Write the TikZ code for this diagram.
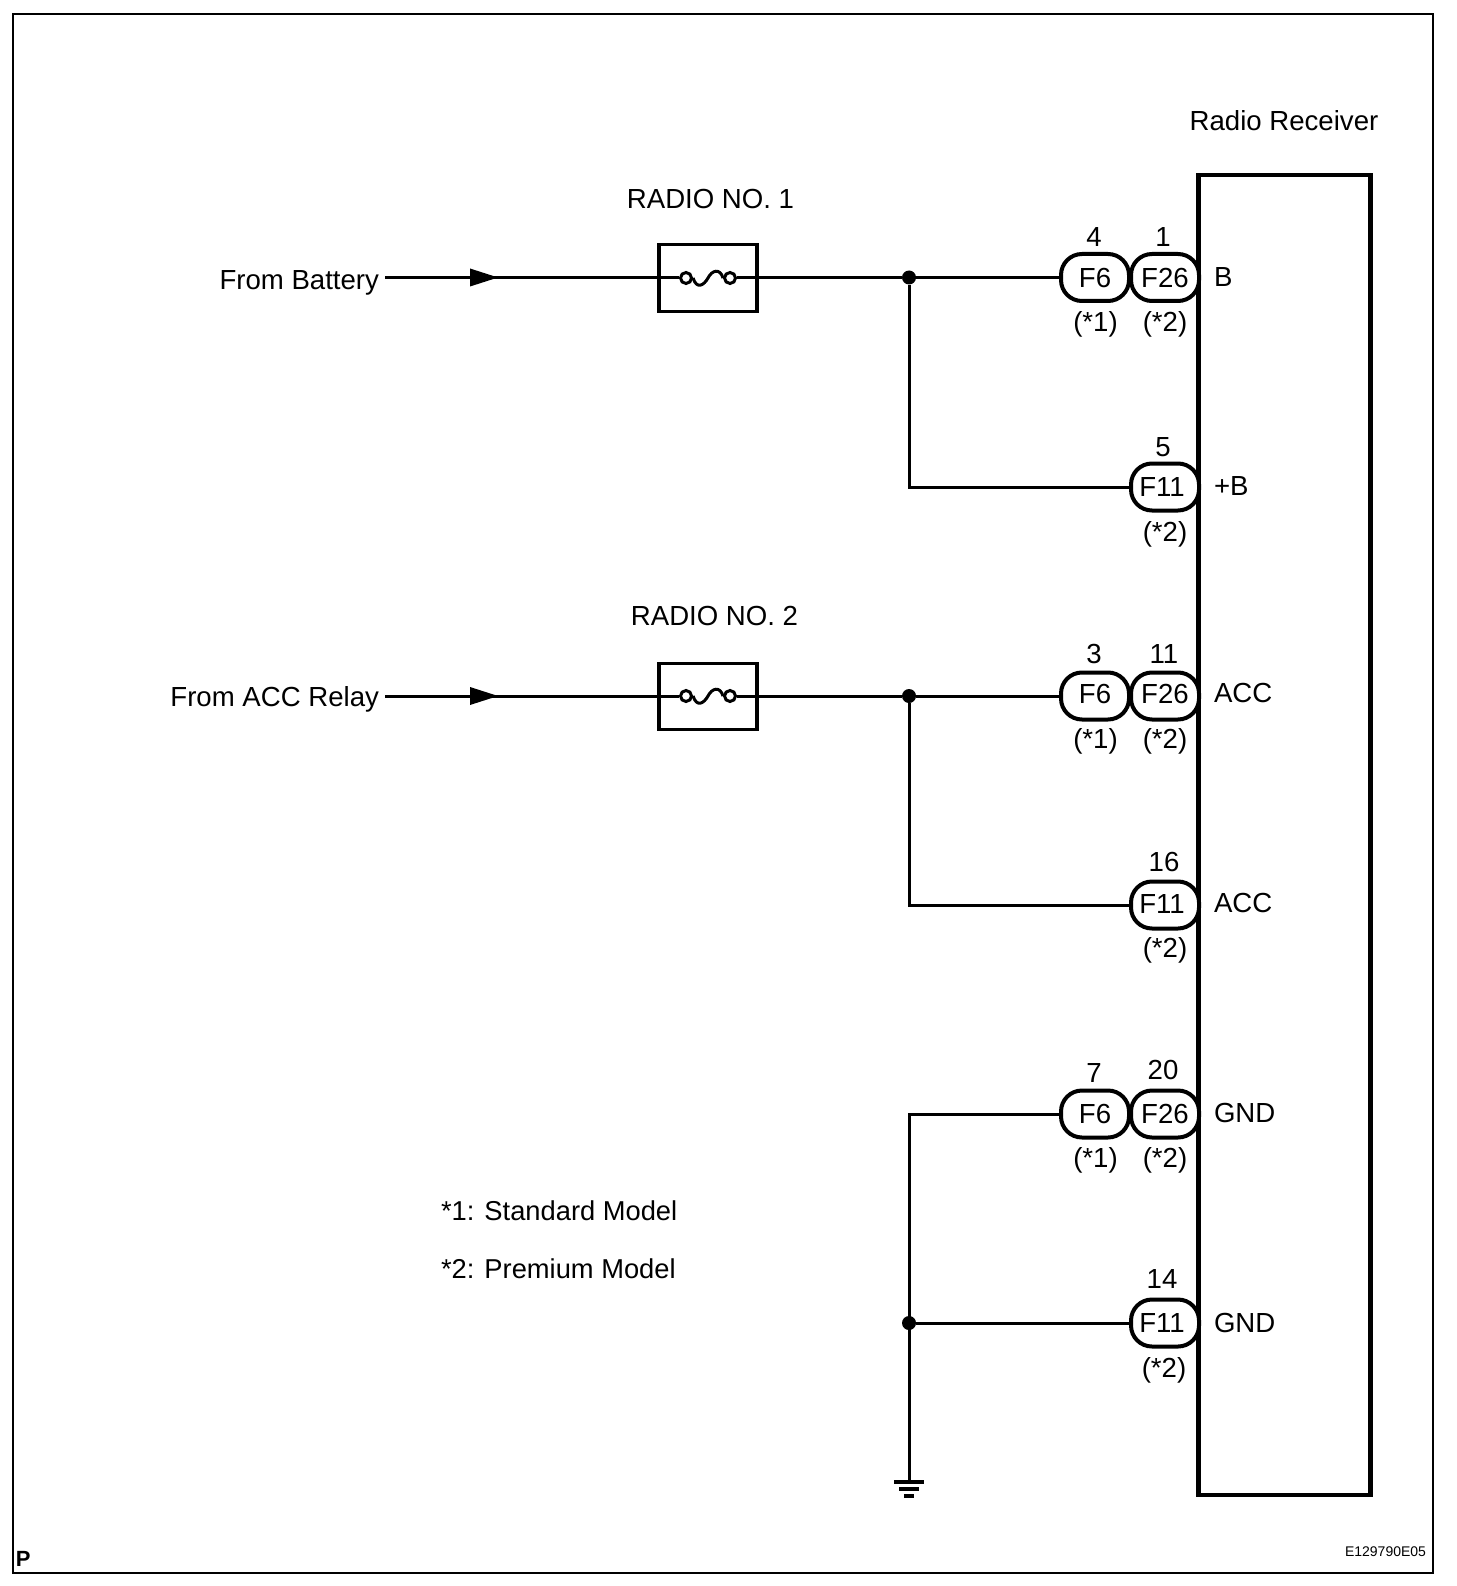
\documentclass[tikz,border=0pt]{standalone}
\usepackage{fontspec}
\setmainfont{Liberation Sans}
\newcommand{\fsz}[1]{\fontsize{#1}{#1}\selectfont}
\newcommand{\upt}[1]{\raisebox{3.5pt}{#1}}
\newcommand{\lft}[1]{#1\kern6pt}
\tikzset{
  lab/.style={inner sep=0pt,outer sep=0pt,anchor=base,font=\fsz{27.6}},
  labl/.style={lab,anchor=base west},
  labr/.style={lab,anchor=base east},
  pill/.style={draw,line width=4pt,rounded corners=21pt,minimum width=68pt,minimum height=47pt,inner sep=0pt,outer sep=2pt,fill=white,font=\fsz{27.6}},
  wire/.style={line width=3pt},
  fuse/.style={draw,line width=3.8pt,minimum width=98pt,inner sep=0pt,outer sep=1.9pt},
  dot/.style={circle,fill=black,inner sep=0pt,minimum size=14pt},
  fusering/.style={circle,draw,line width=3pt,fill=white,inner sep=0pt,minimum size=11pt},
}
\begin{document}
\begin{tikzpicture}[x=1pt,y=-1pt]
\useasboundingbox (0,0) rectangle (1456,1586);
\fill[white] (0,0) rectangle (1456,1586);
% frame and receiver
\draw[line width=2.6pt] (13,14) rectangle (1433,1573);
\node[draw,line width=4.4pt,minimum width=172pt,minimum height=1320pt,inner sep=0pt,outer sep=2.2pt] (recv) at (1284.5,835) {};
\node[lab] (recvlab) at (1284,130.5) {Radio Receiver};
% coordinates
\coordinate (s1) at (385,277.5);
\coordinate (s2) at (385,696);
% fuses
\node[fuse,minimum height=67pt] (fa) at (708,278) {};
\node[fuse,minimum height=66pt] (fb) at (708,696.5) {};
\node[lab] (fal) at (710.5,209) {RADIO NO. 1};
\node[lab] (fbl) at (714.5,625) {RADIO NO. 2};
\node[fusering] (fa1) at (686,278) {};
\node[fusering] (fa2) at (730,278) {};
\node[fusering] (fb1) at (686,696) {};
\node[fusering] (fb2) at (730,696) {};
% junctions
\node[dot] (j1) at (909,277.5) {};
\node[dot] (j2) at (909,696) {};
\node[dot] (j3) at (909,1323) {};
\coordinate (k1) at (909,487);
\coordinate (k2) at (909,905);
\coordinate (k3) at (909,1114);
\coordinate (gnd) at (909,1482);
% pills
\node[pill] (p1a) at (1095,277.5) {F6};
\node[pill] (p1b) at (1165,277.5) {F26};
\node[pill] (p2)  at (1165,487) {\lft{F11}};
\node[pill] (p3a) at (1095,696) {\upt{F6}};
\node[pill] (p3b) at (1165,696) {\upt{F26}};
\node[pill] (p4)  at (1165,905) {\raisebox{2.5pt}{\lft{F11}}};
\node[pill] (p5a) at (1095,1114) {F6};
\node[pill] (p5b) at (1165,1114) {F26};
\node[pill] (p6)  at (1165,1323) {\lft{F11}};
% wires
\draw[wire] (s1) -- (j1 -| fa.west);
\draw[wire] (fa1.west) -- (fa1.west -| fa.west);
\draw[wire] (fa2.east) -- (fa2.east -| fa.east);
\draw[wire] (j1 -| fa.east) -- (j1) -- (p1a.west);
\draw[wire,line join=miter] (j1) -- (k1) -- (p2.west);
\draw[wire] (s2) -- (j2 -| fb.west);
\draw[wire] (fb1.west) -- (fb1.west -| fb.west);
\draw[wire] (fb2.east) -- (fb2.east -| fb.east);
\draw[wire] (j2 -| fb.east) -- (j2) -- (p3a.west);
\draw[wire] (j2) -- (k2) -- (p4.west);
\draw[wire] (p5a.west) -- (k3) -- (gnd);
\draw[wire] (j3) -- (p6.west);
% fuse elements
\draw[line width=3pt] (fa1.east) .. controls (697,290) and (704,285) .. (708,278) .. controls (712,270) and (720,268) .. (fa2.west);
\draw[line width=3pt] (fb1.east) .. controls (697,708) and (704,703) .. (708,696) .. controls (712,688) and (720,686) .. (fb2.west);
% arrowheads
\fill (470,268.5) -- (498,277.5) -- (470,286.5) -- cycle;
\fill (470,687) -- (498,696) -- (470,705) -- cycle;
% ground
\draw[line width=4pt] (894,1482) -- (924,1482);
\draw[line width=3.6pt] (899,1489) -- (919,1489);
\draw[line width=3.4pt] (904,1496) -- (914,1496);
% pin numbers
\node[lab] (n1) at (1094,247) {4};
\node[lab] (n2) at (1163,247) {1};
\node[lab] (n3) at (1163,456) {5};
\node[lab] (n4) at (1094,663) {3};
\node[lab] (n5) at (1164,663) {11};
\node[lab] (n6) at (1164,871) {16};
\node[lab] (n7) at (1094,1082) {7};
\node[lab] (n8) at (1163,1079) {20};
\node[lab] (n9) at (1162,1288) {14};
% star labels
\node[lab] (s1a) at (1095.5,331.5) {(*1)};
\node[lab] (s1b) at (1165,331.5) {(*2)};
\node[lab] (s2b) at (1165,541) {(*2)};
\node[lab] (s3a) at (1095.5,748) {(*1)};
\node[lab] (s3b) at (1165,748) {(*2)};
\node[lab] (s4b) at (1165,957) {(*2)};
\node[lab] (s5a) at (1095.5,1167) {(*1)};
\node[lab] (s5b) at (1165,1167) {(*2)};
\node[lab] (s6b) at (1164,1377) {(*2)};
% pin names
\node[labl] (t1) at (1214,287) {B};
\node[labl] (t2) at (1214,495) {+B};
\node[labl] (t3) at (1214,702) {ACC};
\node[labl] (t4) at (1214,912) {ACC};
\node[labl] (t5) at (1214,1122) {GND};
\node[labl] (t6) at (1214,1332) {GND};
% left labels
\node[labr] (from1) at (379,289.5) {From Battery};
\node[labr] (from2) at (379,706.5) {From ACC Relay};
\node[labl,font=\fsz{27.3}] (note1) at (441,1220) {*1: Standard Model};
\node[labl,font=\fsz{27.3}] (note2) at (441,1278) {*2: Premium Model};
% corner marks
\node[labl,font=\fsz{22}\bfseries] (pm) at (16,1566) {P};
\node[labr,font=\fsz{14}] (code) at (1426,1556) {E129790E05};
\end{tikzpicture}
\end{document}
